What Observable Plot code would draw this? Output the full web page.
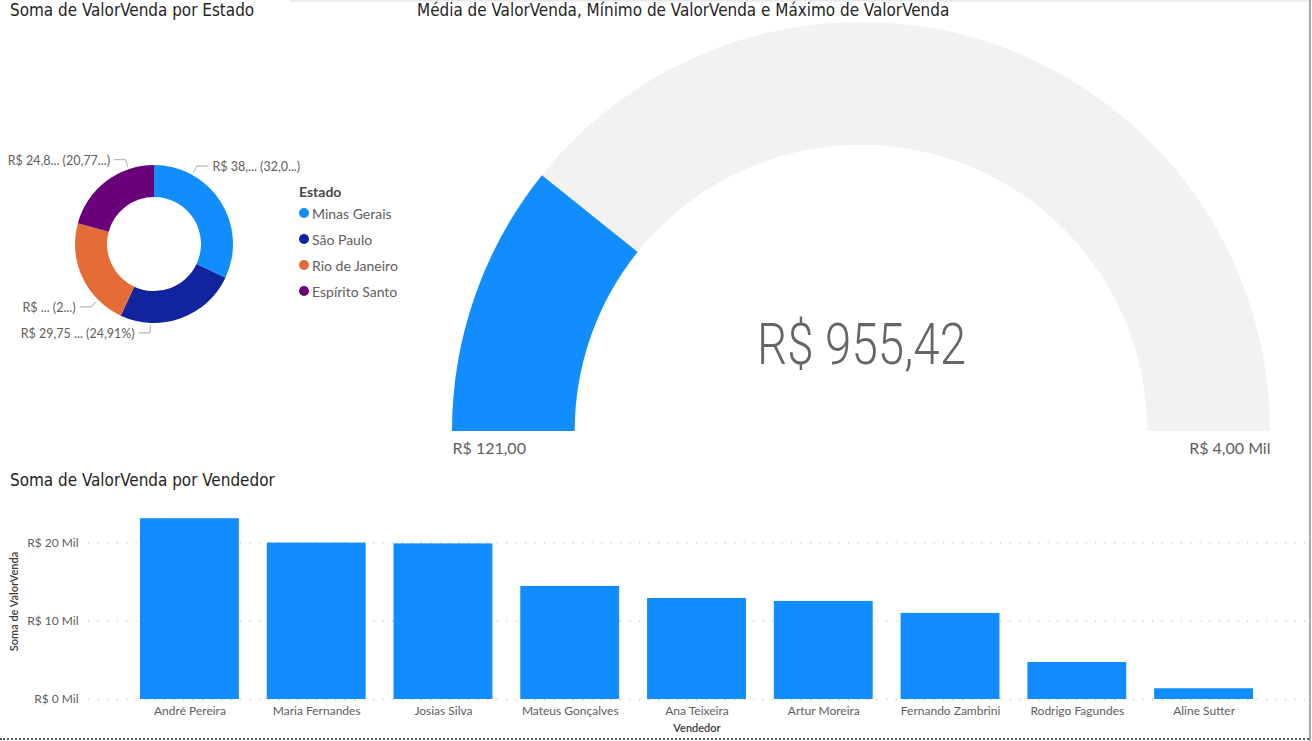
<!DOCTYPE html>
<html>
<head>
<meta charset="utf-8">
<script src="https://cdn.jsdelivr.net/npm/d3@7"></script>
<script src="https://cdn.jsdelivr.net/npm/@observablehq/plot@0.6"></script>
<style>
  html, body { margin: 0; padding: 0; background: #fff; }
  body { width: 1312px; height: 741px; position: relative; overflow: hidden; font-family: Lato, "Noto Sans", sans-serif; }
  .title { position: absolute; font-family: "DejaVu Sans Condensed", "DejaVu Sans", sans-serif; font-size: 16.95px; color: #252423; line-height: 20px; white-space: nowrap; }
  .box { position: absolute; }
  .legend { position: absolute; left: 299px; top: 182px; font-family: Lato, sans-serif; color: #605E5C; }
  .legend .head { font-weight: 700; font-size: 14px; color: #4a4948; height: 20px; line-height: 20px; margin-bottom: -2px; }
  .legend .item { display: flex; align-items: center; height: 26px; font-size: 14px; }
  .legend .sw { width: 10px; height: 10px; border-radius: 50%; margin-right: 3px; }
  .topshade { position: absolute; left: 290px; top: 0; width: 1020px; height: 3px; background: linear-gradient(#e6e6e6, #fff); }
  .rborder { position: absolute; left: 1309px; top: 0; width: 2px; height: 741px; background: #a6a6a6; }
  .bborder { position: absolute; left: 0; top: 738px; width: 1309px; height: 0; border-top: 2px dotted #555; }
</style>
</head>
<body>
<div class="topshade"></div>
<div class="rborder"></div>
<div class="bborder"></div>
<div class="title" style="left:10px; top:0px;">Soma de ValorVenda por Estado</div>
<div class="title" style="left:417px; top:0px;">Média de ValorVenda, Mínimo de ValorVenda e Máximo de ValorVenda</div>
<div class="title" style="left:10px; top:470px;">Soma de ValorVenda por Vendedor</div>
<div id="donut" class="box" style="left:0px; top:54px;"></div>
<div id="legend" class="legend"></div>
<div id="gauge" class="box" style="left:440px; top:14px;"></div>
<div id="bars" class="box" style="left:0px; top:495px;"></div>
<script>
// ---------- DATA ----------
const states = ["Minas Gerais", "São Paulo", "Rio de Janeiro", "Espírito Santo"];
const stateValues = [38230, 29750, 26650, 24800];
const stateLabels = ["R$ 38,... (32,0...)", "R$ 29,75 ... (24,91%)", "R$ ... (2...)", "R$ 24,8... (20,77...)"];
const stateColors = ["#118DFF", "#12239E", "#E66C37", "#6B007B"];
const legendTitle = "Estado";

const gaugeMin = 121;
const gaugeMax = 4000;
const gaugeAvg = 955.42;

const sellers = ["André Pereira", "Maria Fernandes", "Josias Silva", "Mateus Gonçalves", "Ana Teixeira", "Artur Moreira", "Fernando Zambrini", "Rodrigo Fagundes", "Aline Sutter"];
const sellerValues = [23060, 19950, 19850, 14420, 12890, 12510, 10980, 4720, 1370];
const yTicks = [0, 10000, 20000];

// ---------- HELPERS ----------
const ptBR = d3.formatLocale({decimal: ",", thousands: ".", grouping: [3], currency: ["R$ ", ""]});
const money2 = ptBR.format("$,.2f");

// ---------- DONUT ----------
const donutData = states.map((s, i) => ({state: s, value: stateValues[i], label: stateLabels[i], color: stateColors[i]}));

function donutMark(index, scales, values, dims) {
  const fw = dims.width - dims.marginLeft - dims.marginRight;
  const fh = dims.height - dims.marginTop - dims.marginBottom;
  const cx = dims.marginLeft + fw / 2, cy = dims.marginTop + fh / 2;
  const R = fh / 2, r = R * 0.595;
  const pie = d3.pie().sort(null).value(d => d.value)(donutData);
  const arc = d3.arc().innerRadius(r).outerRadius(R);
  const g = d3.create("svg:g").attr("transform", `translate(${cx},${cy})`);
  g.selectAll("path").data(pie).join("path").attr("d", arc).attr("fill", d => d.data.color);
  const distV = a => { const m = ((a % Math.PI) + Math.PI) % Math.PI; return Math.min(m, Math.PI - m); };
  for (const p of pie) {
    const q1 = p.startAngle + (p.endAngle - p.startAngle) * 0.25;
    const q3 = p.startAngle + (p.endAngle - p.startAngle) * 0.75;
    const a = distV(q1) <= distV(q3) ? q1 : q3;
    const side = Math.sin(a) >= 0 ? 1 : -1;
    const x0 = (R + 2.5) * Math.sin(a), y0 = -(R + 2.5) * Math.cos(a);
    const x1 = (R + 10) * Math.sin(a), y1 = -(R + 10) * Math.cos(a);
    const x2 = x1 + side * 11.5;
    g.append("path").attr("d", `M${x0},${y0}L${x1},${y1}L${x2},${y1}`)
      .attr("fill", "none").attr("stroke", "#a9a9a9").attr("stroke-width", 1);
    g.append("text").attr("x", x2 + side * 4).attr("y", y1 + 1).attr("dy", "0.35em")
      .attr("text-anchor", side > 0 ? "start" : "end")
      .attr("fill", "#605E5C").attr("font-size", 12.5).attr("font-family", "Lato, sans-serif")
      .text(p.data.label);
  }
  return g.node();
}

const donut = Plot.plot({
  width: 308, height: 380,
  marginTop: 111, marginBottom: 111, marginLeft: 75, marginRight: 75,
  x: {axis: null}, y: {axis: null},
  marks: [donutMark]
});
document.getElementById("donut").append(donut);

const legend = document.getElementById("legend");
legend.innerHTML = `<div class="head">${legendTitle}</div>` +
  states.map((s, i) => `<div class="item"><span class="sw" style="background:${stateColors[i]}"></span>${s}</div>`).join("");

// ---------- GAUGE ----------
function gaugeMark(index, scales, values, dims) {
  const fw = dims.width - dims.marginLeft - dims.marginRight;
  const cx = dims.marginLeft + fw / 2, cy = dims.height - dims.marginBottom;
  const R = fw / 2, r = R * 0.7;
  const ang = d3.scaleLinear().domain([gaugeMin, gaugeMax]).range([-Math.PI / 2, Math.PI / 2]);
  const arc = d3.arc().innerRadius(r).outerRadius(R);
  const g = d3.create("svg:g").attr("transform", `translate(${cx},${cy})`);
  g.append("path").attr("d", arc({startAngle: ang(gaugeMin), endAngle: ang(gaugeMax)})).attr("fill", "#F3F2F1");
  g.append("path").attr("d", arc({startAngle: ang(gaugeMin), endAngle: ang(gaugeAvg)})).attr("fill", "#118DFF");
  return g.node();
}

const gauge = Plot.plot({
  width: 842, height: 452,
  marginTop: 8, marginBottom: 35, marginLeft: 12, marginRight: 12,
  x: {axis: null}, y: {axis: null},
  style: {fontFamily: "Lato, sans-serif"},
  marks: [
    gaugeMark,
    Plot.text([money2(gaugeAvg)], {text: d => d, frameAnchor: "bottom", lineAnchor: "bottom", dy: -68, fontSize: 58, fontWeight: 300, fontFamily: "Roboto", fill: "#666666"}),
    Plot.text([money2(gaugeMin)], {text: d => d, frameAnchor: "bottom-left", textAnchor: "start", lineAnchor: "bottom", dy: 22, fontSize: 16, fill: "#605E5C"}),
    Plot.text([money2(gaugeMax / 1000) + " Mil"], {text: d => d, frameAnchor: "bottom-right", textAnchor: "end", lineAnchor: "bottom", dy: 22, fontSize: 16, fill: "#605E5C"})
  ]
});
for (const t of gauge.querySelectorAll("text")) {
  if (t.textContent === money2(gaugeAvg)) { t.setAttribute("textLength", 209); t.setAttribute("lengthAdjust", "spacingAndGlyphs"); }
}
document.getElementById("gauge").append(gauge);

// ---------- BARS ----------
const barData = sellers.map((s, i) => ({seller: s, value: sellerValues[i]}));
const bars = Plot.plot({
  width: 1312, height: 246,
  marginLeft: 88, marginRight: 7, marginTop: 8, marginBottom: 42,
  style: {fontFamily: "Lato, sans-serif", fontSize: "12px", color: "#605E5C"},
  x: {type: "band", domain: sellers, paddingInner: 0.22, paddingOuter: 0.41, round: false},
  y: {domain: [0, 25000]},
  marks: [
    Plot.gridY(yTicks, {stroke: "#C8C6C4", strokeOpacity: 1, strokeWidth: 1.3, strokeDasharray: "1.3,8.2"}),
    Plot.barY(barData, {x: "seller", y: "value", fill: "#118DFF"}),
    Plot.axisX({tickSize: 0, tickPadding: 6.5, label: "Vendedor", labelAnchor: "center", labelOffset: 32, labelArrow: "none"}),
    Plot.axisY({ticks: yTicks, tickSize: 0, tickPadding: 10, tickFormat: d => `R$ ${d / 1000} Mil`, label: "Soma de ValorVenda", labelAnchor: "center", labelOffset: 78, labelArrow: "none"})
  ]
});
for (const g of bars.querySelectorAll('g[aria-label$="axis label"]')) {
  g.setAttribute("font-size", "11");
  g.setAttribute("font-weight", "600");
  g.setAttribute("fill", "#3b3a39");
}
document.getElementById("bars").append(bars);
</script>
</body>
</html>
